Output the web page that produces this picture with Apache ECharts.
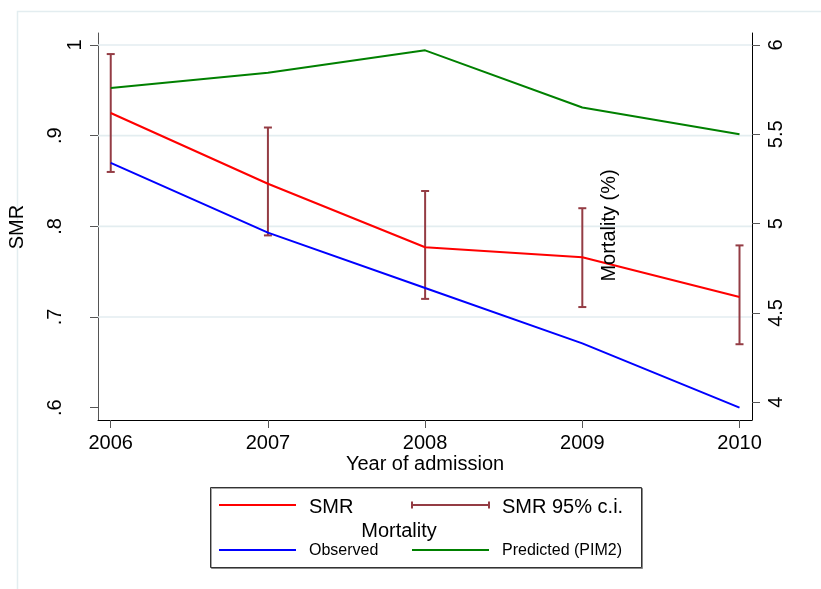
<!DOCTYPE html>
<html>
<head>
<meta charset="utf-8">
<title>SMR and mortality by year of admission</title>
<script src="https://cdn.jsdelivr.net/npm/echarts@6/dist/echarts.min.js"></script>
<style>
  html, body { margin: 0; padding: 0; background: #fff; }
  #chart { width: 821px; height: 589px; }
</style>
</head>
<body>
<div id="chart"></div>
<script>
// Year of admission
const years = [2006, 2007, 2008, 2009, 2010];
// Standardised mortality ratio with its 95% confidence interval (left axis)
const smr = [0.925, 0.847, 0.777, 0.766, 0.722];
const smrLow = [0.860, 0.790, 0.720, 0.711, 0.670];
const smrHigh = [0.990, 0.909, 0.839, 0.820, 0.779];
// Mortality in percent (right axis)
const observed = [5.34, 4.95, 4.64, 4.33, 3.97];
const predicted = [5.76, 5.845, 5.97, 5.65, 5.50];
// Tick values
const yearTicks = [2006, 2007, 2008, 2009, 2010];
const smrTicks = [0.6, 0.7, 0.8, 0.9, 1];
const smrGrid = [0.7, 0.8, 0.9, 1];
const mortTicks = [4, 4.5, 5, 5.5, 6];

const FONT = 'Liberation Sans, Arial, Helvetica, sans-serif';
const RED = '#ff0000', BLUE = '#0000ff', GREEN = '#008000', MAROON = '#943c44';
const GRIDCOL = '#e3edf0';

const chart = echarts.init(document.getElementById('chart'), null, { renderer: 'canvas' });

const ciData = years.map((y, i) => [y, smrLow[i], smrHigh[i]]);

// SMR tick labels drop the leading zero; fractional labels sit further from the axis
function smrLabel(v) {
  return v >= 1 ? '{whole|' + v + '}' : '{frac|' + String(v).replace(/^0/, '') + '}';
}

const option = {
  animation: false,
  backgroundColor: '#fff',
  textStyle: { fontFamily: FONT, color: '#000' },
  grid: { left: 98, right: 69, top: 33, bottom: 169, containLabel: false },
  xAxis: {
    type: 'value',
    min: 2005.919,
    max: 2010.0795,
    axisLine: { show: true, onZero: false, lineStyle: { color: '#000', width: 1 } },
    axisTick: { show: true, customValues: yearTicks, length: 8, lineStyle: { color: '#555', width: 1 } },
    axisLabel: {
      show: true, customValues: yearTicks, margin: 13, fontSize: 20, color: '#000', fontFamily: FONT,
      formatter: v => String(v)
    },
    splitLine: { show: false }
  },
  yAxis: [
    {
      type: 'value',
      position: 'left',
      min: 0.58644,
      max: 1.01323,
      axisLine: { show: true, onZero: false, lineStyle: { color: '#555', width: 1 } },
      axisTick: { show: true, customValues: smrTicks, length: 8, lineStyle: { color: '#555', width: 1 } },
      axisLabel: {
        show: true, customValues: smrTicks, rotate: 90, margin: 13,
        fontSize: 20, color: '#000', fontFamily: FONT, formatter: smrLabel,
        rich: {
          whole: { fontSize: 20, fontFamily: FONT, color: '#000' },
          frac: { fontSize: 20, fontFamily: FONT, color: '#000', padding: [0, 0, 20, 0] }
        }
      },
      splitLine: { show: false }
    },
    {
      type: 'value',
      position: 'right',
      min: 3.9009,
      max: 6.0672,
      axisLine: { show: true, onZero: false, lineStyle: { color: '#000', width: 1 } },
      axisTick: { show: true, customValues: mortTicks, length: 8, lineStyle: { color: '#555', width: 1 } },
      axisLabel: {
        show: true, customValues: mortTicks, rotate: 90, margin: 14,
        fontSize: 20, color: '#000', fontFamily: FONT, formatter: v => String(v)
      },
      splitLine: { show: false }
    }
  ],
  series: [
    {
      // horizontal grid lines at the SMR ticks
      name: 'grid',
      type: 'custom',
      yAxisIndex: 0,
      z: 1,
      silent: true,
      data: smrGrid.map(v => [years[0], v]),
      renderItem: function (params, api) {
        const cs = params.coordSys;
        const y = api.coord([api.value(0), api.value(1)])[1];
        return {
          type: 'line',
          shape: { x1: cs.x, y1: y, x2: cs.x + cs.width, y2: y },
          style: { stroke: GRIDCOL, lineWidth: 1.6 }
        };
      }
    },
    {
      name: 'SMR 95% c.i.',
      type: 'custom',
      yAxisIndex: 0,
      z: 2,
      data: ciData,
      renderItem: function (params, api) {
        const lo = api.coord([api.value(0), api.value(1)]);
        const hi = api.coord([api.value(0), api.value(2)]);
        const w = 4;
        const st = { stroke: MAROON, lineWidth: 2 };
        return {
          type: 'group',
          children: [
            { type: 'line', shape: { x1: lo[0], y1: lo[1], x2: hi[0], y2: hi[1] }, style: st },
            { type: 'line', shape: { x1: hi[0] - w, y1: hi[1], x2: hi[0] + w, y2: hi[1] }, style: st },
            { type: 'line', shape: { x1: lo[0] - w, y1: lo[1], x2: lo[0] + w, y2: lo[1] }, style: st }
          ]
        };
      }
    },
    {
      name: 'SMR',
      type: 'line',
      yAxisIndex: 0,
      z: 3,
      data: years.map((y, i) => [y, smr[i]]),
      showSymbol: false,
      lineStyle: { color: RED, width: 2 },
      itemStyle: { color: RED }
    },
    {
      name: 'Observed',
      type: 'line',
      yAxisIndex: 1,
      z: 3,
      data: years.map((y, i) => [y, observed[i]]),
      showSymbol: false,
      lineStyle: { color: BLUE, width: 2 },
      itemStyle: { color: BLUE }
    },
    {
      name: 'Predicted (PIM2)',
      type: 'line',
      yAxisIndex: 1,
      z: 3,
      data: years.map((y, i) => [y, predicted[i]]),
      showSymbol: false,
      lineStyle: { color: GREEN, width: 2 },
      itemStyle: { color: GREEN }
    }
  ],
  graphic: [
    // outer frame of the graph region
    {
      type: 'rect', z: -10, silent: true,
      shape: { x: 17.5, y: 11.5, width: 900, height: 900 },
      style: { fill: null, stroke: GRIDCOL, lineWidth: 1.5 }
    },
    // axis titles
    {
      type: 'text', x: 17, y: 227, rotation: Math.PI / 2,
      style: { text: 'SMR', font: '20px ' + FONT, fill: '#000', align: 'center', verticalAlign: 'middle' }
    },
    {
      type: 'text', x: 609, y: 225.5, rotation: Math.PI / 2, z: 10,
      style: { text: 'Mortality (%)', font: '20px ' + FONT, fill: '#000', align: 'center', verticalAlign: 'middle' }
    },
    {
      type: 'text', x: 425, y: 464,
      style: { text: 'Year of admission', font: '20px ' + FONT, fill: '#000', align: 'center', verticalAlign: 'middle' }
    },
    // legend
    {
      type: 'group', z: 20,
      children: [
        {
          type: 'rect', shape: { x: 210.5, y: 487.5, width: 431, height: 80 },
          style: { fill: '#fff', stroke: '#333', lineWidth: 1, shadowColor: 'rgba(0,0,0,0.35)', shadowOffsetX: 1, shadowOffsetY: 1 }
        },
        { type: 'line', shape: { x1: 219, y1: 505, x2: 296, y2: 505 }, style: { stroke: RED, lineWidth: 2 } },
        { type: 'text', x: 309, y: 507, style: { text: 'SMR', font: '20px ' + FONT, fill: '#000', verticalAlign: 'middle' } },
        { type: 'line', shape: { x1: 412, y1: 505, x2: 489, y2: 505 }, style: { stroke: MAROON, lineWidth: 2 } },
        { type: 'line', shape: { x1: 412, y1: 501.5, x2: 412, y2: 508.5 }, style: { stroke: MAROON, lineWidth: 2 } },
        { type: 'line', shape: { x1: 489, y1: 501.5, x2: 489, y2: 508.5 }, style: { stroke: MAROON, lineWidth: 2 } },
        { type: 'text', x: 502, y: 507, style: { text: 'SMR 95% c.i.', font: '20px ' + FONT, fill: '#000', verticalAlign: 'middle' } },
        { type: 'text', x: 399, y: 531, style: { text: 'Mortality', font: '20px ' + FONT, fill: '#000', align: 'center', verticalAlign: 'middle' } },
        { type: 'line', shape: { x1: 219, y1: 550, x2: 296, y2: 550 }, style: { stroke: BLUE, lineWidth: 2 } },
        { type: 'text', x: 309, y: 551, style: { text: 'Observed', font: '16px ' + FONT, fill: '#000', verticalAlign: 'middle' } },
        { type: 'line', shape: { x1: 412, y1: 550, x2: 489, y2: 550 }, style: { stroke: GREEN, lineWidth: 2 } },
        { type: 'text', x: 502, y: 551, style: { text: 'Predicted (PIM2)', font: '16px ' + FONT, fill: '#000', verticalAlign: 'middle' } }
      ]
    }
  ]
};

chart.setOption(option);
</script>
</body>
</html>
